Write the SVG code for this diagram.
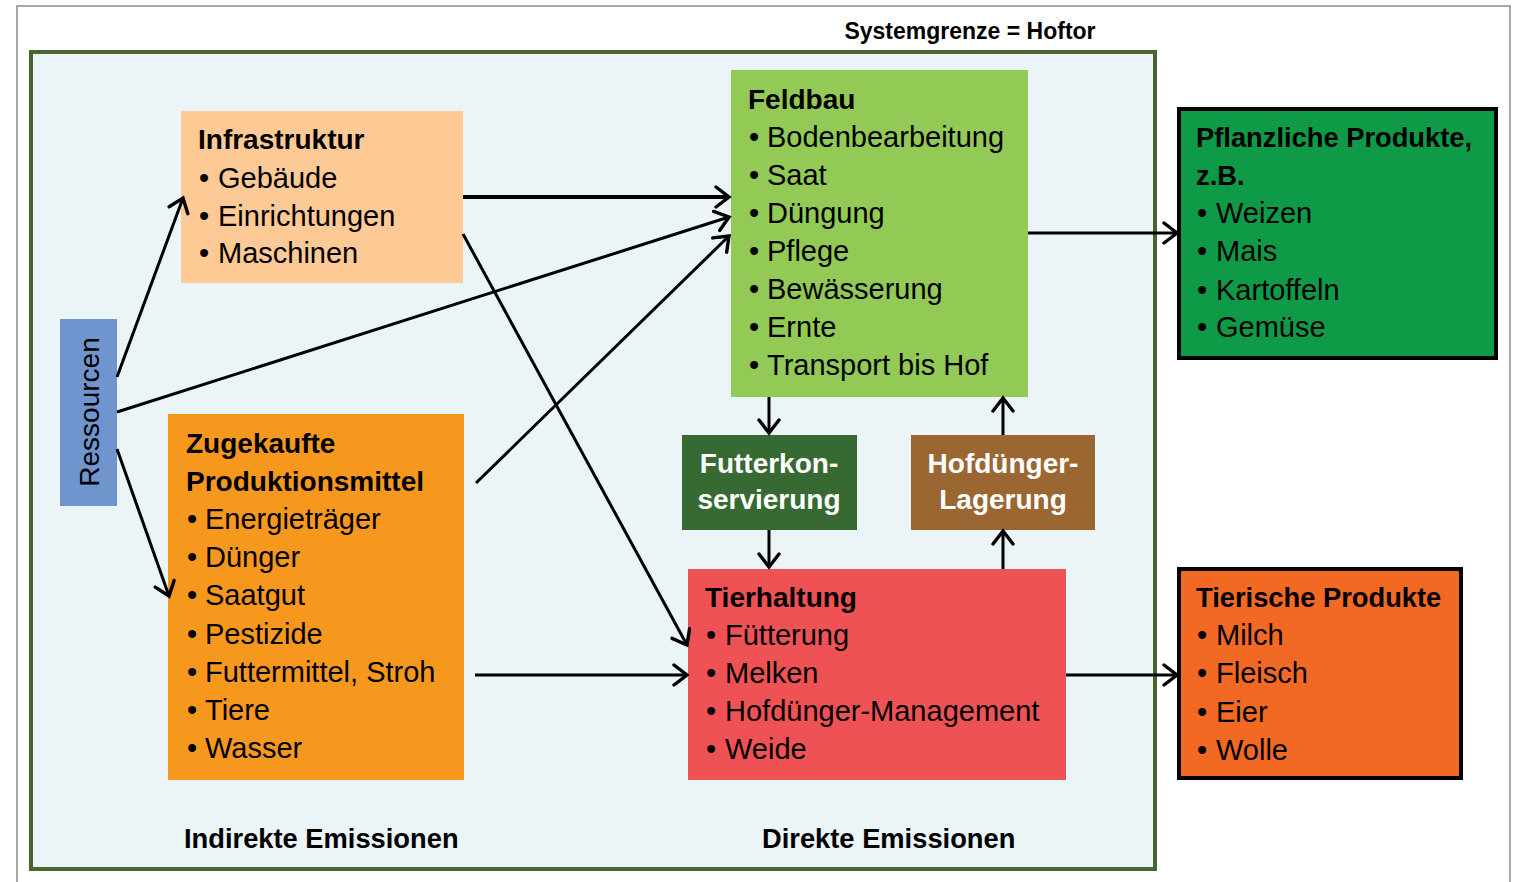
<svg xmlns="http://www.w3.org/2000/svg" width="1517" height="882" viewBox="0 0 1517 882">
<style>
text{font-family:"Liberation Sans",Arial,sans-serif;fill:#000}
.t{font-size:28px;font-weight:bold}
.t2{font-size:27.3px;font-weight:bold}
.i{font-size:29px}
.w{font-size:28px;font-weight:bold;fill:#fff;text-anchor:middle}
.lbl{font-size:27.3px;font-weight:bold}
.c{fill:none;stroke:#000;stroke-width:3;marker-end:url(#ah)}
.thick{stroke-width:4}
</style>
<defs>
<marker id="ah" viewBox="0 0 20 24" refX="17" refY="12" markerWidth="20" markerHeight="24" markerUnits="userSpaceOnUse" orient="auto">
<path d="M4,2 L17,12 L4,22" fill="none" stroke="#000" stroke-width="3.4" stroke-linecap="round" stroke-linejoin="miter"/>
</marker>
</defs>
<rect width="1517" height="882" fill="#fff"/>
<path d="M17,890 V6 H1510 V890" fill="none" stroke="#8a8a8a" stroke-width="1.5"/>
<g id="systemgrenze">
<rect x="31" y="52" width="1124" height="817" fill="#ebf4f6" stroke="#47652f" stroke-width="4"/>
<text x="970" y="39" text-anchor="middle" style="font-size:23px;font-weight:bold">Systemgrenze = Hoftor</text>
</g>
<g id="ressourcen">
<rect x="60" y="319" width="57" height="187" fill="#7094cd"/>
<text x="99" y="412" text-anchor="middle" transform="rotate(-90 99 412)" style="font-size:28px">Ressourcen</text>
</g>
<g id="infrastruktur">
<rect x="181" y="111" width="282" height="172" fill="#fdca95"/>
<text class="t" x="198" y="149">Infrastruktur</text>
<text class="i" x="199" y="188">•<tspan x="218">Gebäude</tspan></text>
<text class="i" x="199" y="226">•<tspan x="218">Einrichtungen</tspan></text>
<text class="i" x="199" y="263">•<tspan x="218">Maschinen</tspan></text>
</g>
<g id="zugekaufte">
<rect x="168" y="414" width="296" height="366" fill="#f7981e"/>
<text class="t" x="186" y="453">Zugekaufte</text>
<text class="t" x="186" y="491">Produktionsmittel</text>
<text class="i" x="187" y="529">•<tspan x="205">Energieträger</tspan></text>
<text class="i" x="187" y="567">•<tspan x="205">Dünger</tspan></text>
<text class="i" x="187" y="605">•<tspan x="205">Saatgut</tspan></text>
<text class="i" x="187" y="644">•<tspan x="205">Pestizide</tspan></text>
<text class="i" x="187" y="682">•<tspan x="205">Futtermittel, Stroh</tspan></text>
<text class="i" x="187" y="720">•<tspan x="205">Tiere</tspan></text>
<text class="i" x="187" y="758">•<tspan x="205">Wasser</tspan></text>
</g>
<g id="feldbau">
<rect x="731" y="70" width="297" height="327" fill="#93c955"/>
<text class="t" x="748" y="109">Feldbau</text>
<text class="i" x="749" y="147">•<tspan x="767">Bodenbearbeitung</tspan></text>
<text class="i" x="749" y="185">•<tspan x="767">Saat</tspan></text>
<text class="i" x="749" y="223">•<tspan x="767">Düngung</tspan></text>
<text class="i" x="749" y="261">•<tspan x="767">Pflege</tspan></text>
<text class="i" x="749" y="299">•<tspan x="767">Bewässerung</tspan></text>
<text class="i" x="749" y="337">•<tspan x="767">Ernte</tspan></text>
<text class="i" x="749" y="375">•<tspan x="767">Transport bis Hof</tspan></text>
</g>
<g id="futterkonservierung">
<rect x="682" y="435" width="175" height="95" fill="#376a33"/>
<text class="w" x="769" y="473">Futterkon-</text>
<text class="w" x="769" y="509">servierung</text>
</g>
<g id="hofduenger-lagerung">
<rect x="911" y="435" width="184" height="95" fill="#9a6632"/>
<text class="w" x="1003" y="473">Hofdünger-</text>
<text class="w" x="1003" y="509">Lagerung</text>
</g>
<g id="tierhaltung">
<rect x="688" y="569" width="378" height="211" fill="#ef5254"/>
<text class="t" x="705" y="607">Tierhaltung</text>
<text class="i" x="706" y="645">•<tspan x="725">Fütterung</tspan></text>
<text class="i" x="706" y="683">•<tspan x="725">Melken</tspan></text>
<text class="i" x="706" y="721">•<tspan x="725">Hofdünger-Management</tspan></text>
<text class="i" x="706" y="759">•<tspan x="725">Weide</tspan></text>
</g>
<g id="pflanzliche-produkte">
<rect x="1179" y="109" width="317" height="249" fill="#0f9a48" stroke="#000" stroke-width="4"/>
<text class="t2" x="1196" y="147">Pflanzliche Produkte,</text>
<text class="t2" x="1196" y="185">z.B.</text>
<text class="i" x="1197" y="223">•<tspan x="1216">Weizen</tspan></text>
<text class="i" x="1197" y="261">•<tspan x="1216">Mais</tspan></text>
<text class="i" x="1197" y="300">•<tspan x="1216">Kartoffeln</tspan></text>
<text class="i" x="1197" y="337">•<tspan x="1216">Gemüse</tspan></text>
</g>
<g id="tierische-produkte">
<rect x="1179" y="569" width="282" height="209" fill="#f16922" stroke="#000" stroke-width="4"/>
<text class="t2" x="1196" y="607">Tierische Produkte</text>
<text class="i" x="1197" y="645">•<tspan x="1216">Milch</tspan></text>
<text class="i" x="1197" y="683">•<tspan x="1216">Fleisch</tspan></text>
<text class="i" x="1197" y="722">•<tspan x="1216">Eier</tspan></text>
<text class="i" x="1197" y="760">•<tspan x="1216">Wolle</tspan></text>
</g>
<g id="emissionen">
<text class="lbl" x="184" y="848">Indirekte Emissionen</text>
<text class="lbl" x="762" y="848">Direkte Emissionen</text>
</g>
<g id="connectors">
<path class="c" d="M117,377 L183,198"/>
<path class="c" d="M117,412 L729,217"/>
<path class="c" d="M117,449 L169,596"/>
<path class="c thick" d="M463,197 L729,197"/>
<path class="c" d="M463,234 L687,645"/>
<path class="c" d="M476,483 L729,236"/>
<path class="c" d="M475,675 L687,675"/>
<path class="c" d="M769,397 L769,433"/>
<path class="c" d="M769,530 L769,567"/>
<path class="c" d="M1003,569 L1003,531"/>
<path class="c" d="M1003,435 L1003,398"/>
<path class="c" d="M1028,233 L1177,233"/>
<path class="c" d="M1066,675 L1177,675"/>
</g>
</svg>
